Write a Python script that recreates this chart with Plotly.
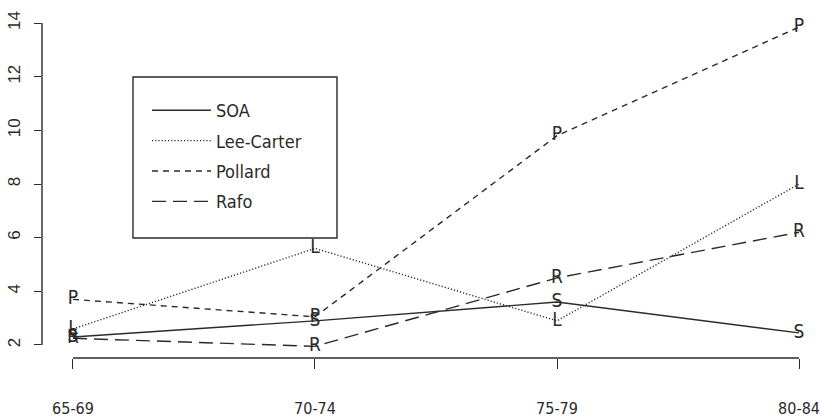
import plotly.graph_objects as go

age_groups = ["65-69", "70-74", "75-79", "80-84"]
soa = [2.3, 2.9, 3.6, 2.45]
lee_carter = [2.6, 5.6, 2.9, 8.0]
pollard = [3.7, 3.05, 9.8, 13.85]
rafo = [2.25, 1.95, 4.5, 6.2]
y_ticks = [2, 4, 6, 8, 10, 12, 14]

series = [
    ("SOA", soa, "S", "solid"),
    ("Lee-Carter", lee_carter, "L", "1.2px,2px"),
    ("Pollard", pollard, "P", "6px,5px"),
    ("Rafo", rafo, "R", "14px,7px"),
]

ink = "#2a2a2a"
narrow = "DejaVu Sans Condensed, Liberation Sans Narrow, Arial Narrow, sans-serif"
xs = list(range(len(age_groups)))

fig = go.Figure()
for name, vals, letter, dash in series:
    fig.add_trace(go.Scatter(
        x=xs, y=vals, mode="lines+text", name=name,
        text=[letter] * len(vals), textposition="middle center",
        textfont=dict(family=narrow, size=19, color=ink),
        line=dict(color=ink, width=1.4, dash=dash),
        legendgroup=name, cliponaxis=False,
    ))

fig.update_layout(
    width=820, height=420,
    margin=dict(l=42, r=5, t=10, b=62, autoexpand=False),
    paper_bgcolor="white", plot_bgcolor="white",
    showlegend=True,
    legend=dict(
        x=147 / 820, y=1 - 92 / 420, xref="container", yref="container",
        xanchor="left", yanchor="top",
        bgcolor="rgba(0,0,0,0)", borderwidth=0,
        font=dict(family=narrow, size=18, color=ink),
        tracegroupgap=4, itemwidth=59,
    ),
    xaxis=dict(
        range=[-0.128, 3.066], tickmode="array", tickvals=xs, ticktext=age_groups,
        showgrid=False, zeroline=False, showline=False, automargin=False,
        ticks="outside", ticklen=10, tickwidth=1.4, tickcolor=ink,
        tickfont=dict(family=narrow, size=16, color=ink),
        ticklabelstandoff=26, ticklabeloverflow="allow",
    ),
    yaxis=dict(
        range=[1.515, 14.485], tickmode="array", tickvals=y_ticks,
        showgrid=False, zeroline=False, showline=False, automargin=False,
        ticks="outside", ticklen=7, tickwidth=1.4, tickcolor=ink,
        tickangle=-90,
        tickfont=dict(family="Liberation Sans, Arial, sans-serif", size=17, color=ink),
        ticklabelstandoff=7, ticklabeloverflow="allow",
    ),
    shapes=[
        dict(type="line", xref="x", yref="paper", x0=xs[0], x1=xs[-1], y0=0, y1=0,
             line=dict(color=ink, width=1.4)),
        dict(type="line", xref="paper", yref="y", x0=0, x1=0, y0=y_ticks[0], y1=y_ticks[-1],
             line=dict(color=ink, width=1.4)),
        dict(type="rect", xref="paper", yref="paper", x0=0.1177, x1=0.3816, y0=0.3448, y1=0.8075,
             line=dict(color=ink, width=1.4)),
    ],
)

fig.write_html(
    "out.html",
    config={"displayModeBar": False},
    post_script="document.body.style.margin='0';document.body.style.overflow='hidden';",
)
